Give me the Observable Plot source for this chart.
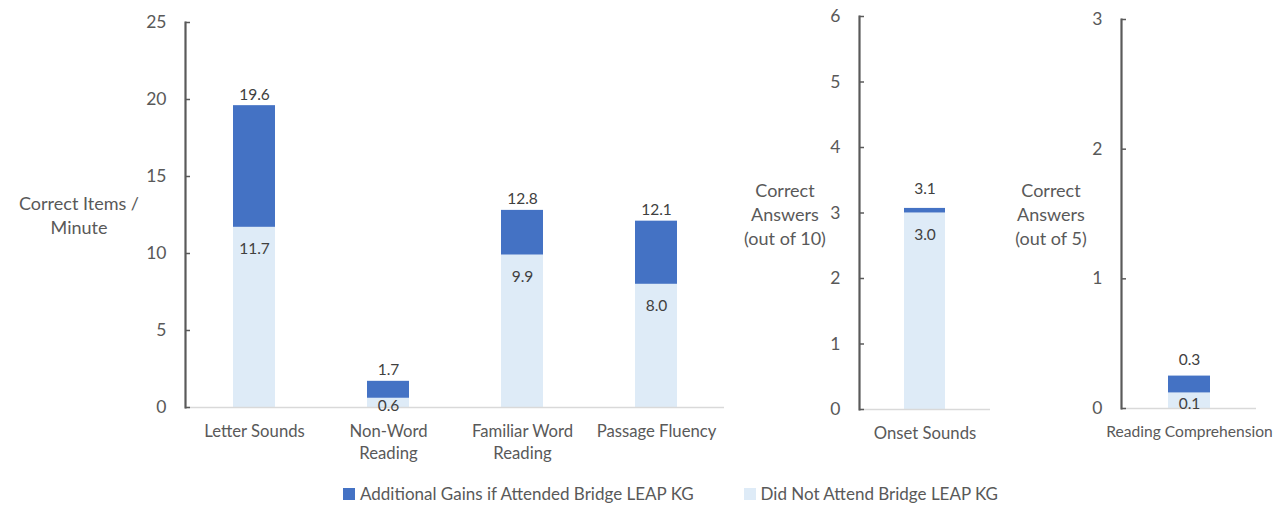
<!DOCTYPE html>
<html>
<head>
<meta charset="utf-8">
<script src="https://cdn.jsdelivr.net/npm/d3@7"></script>
<script src="https://cdn.jsdelivr.net/npm/@observablehq/plot@0.6"></script>
<style>
  body { margin: 0; background: #fff; font-family: Lato, "Open Sans", sans-serif; }
  #wrap { position: relative; width: 1275px; height: 505px; overflow: hidden; background: #fff; }
  .panel { position: absolute; top: 0; }
  .ytitle { position: absolute; text-align: center; color: #595959; font-size: 18px; line-height: 24px; transform: translate(-50%, -50%); white-space: nowrap; z-index: 2; }
  #legend { position: absolute; top: 483px; left: 343px; display: flex; align-items: center; color: #595959; font-size: 17px; white-space: nowrap; }
  .sw { display: inline-block; width: 12px; height: 12px; margin-right: 5px; }
</style>
</head>
<body>
<div id="wrap"></div>
<script>
// ---- data ----
const fluencyCats = ["Letter Sounds", "Non-Word Reading", "Familiar Word Reading", "Passage Fluency"];
const fluencyTickLabels = ["Letter Sounds", "Non-Word\nReading", "Familiar Word\nReading", "Passage Fluency"];
const fluencyBase = [11.7, 0.6, 9.9, 8.0];     // Did Not Attend Bridge LEAP KG
const fluencyTotal = [19.6, 1.7, 12.8, 12.1];  // with Additional Gains
const onsetCats = ["Onset Sounds"];
const onsetBase = [3.0];
const onsetTotal = [3.07];
const compCats = ["Reading Comprehension"];
const compBase = [0.12];
const compTotal = [0.25];
const fluencyTicks = [0, 5, 10, 15, 20, 25];
const onsetTicks = [0, 1, 2, 3, 4, 5, 6];
const compTicks = [0, 1, 2, 3];
const seriesNames = ["Additional Gains if Attended Bridge LEAP KG", "Did Not Attend Bridge LEAP KG"];
const yTitles = [["Correct Items /", "Minute"], ["Correct", "Answers", "(out of 10)"], ["Correct", "Answers", "(out of 5)"]];

const DARK = "#4472C4", LIGHT = "#DEEBF7", TXT = "#595959", AX = "#5a5a5a";
const FONT = "Lato, 'Open Sans', sans-serif";

function panel(o) {
  const rows = o.cats.map((c, i) => ({cat: c, base: o.base[i], total: o.total[i], label: o.tickLabels[i]}));
  const plotH = 470;
  const ppu = (plotH - o.marginTop - o.marginBottom) / o.yMax;
  const bigBase = rows.filter(d => d.base * ppu > 30);
  const smallBase = rows.filter(d => d.base * ppu <= 30);
  const labelOf = new Map(rows.map(d => [d.cat, d.label]));
  return Plot.plot({
    width: o.width,
    height: plotH,
    marginLeft: o.marginLeft,
    marginRight: o.marginRight,
    marginTop: o.marginTop,
    marginBottom: o.marginBottom,
    style: {fontFamily: FONT, color: TXT, background: "transparent", overflow: "visible"},
    x: {domain: o.cats, paddingInner: o.pad, paddingOuter: o.pad / 2, label: null, axis: null},
    y: {domain: [0, o.yMax], label: null, axis: null},
    marks: [
      Plot.barY(rows, {x: "cat", y1: 0, y2: "base", fill: LIGHT}),
      Plot.barY(rows, {x: "cat", y1: "base", y2: "total", fill: DARK}),
      Plot.ruleY([0], {stroke: "#D9D9D9", strokeWidth: 1.5}),
      Plot.axisY({ticks: o.ticks, tickSize: 0, tickPadding: 19, tickFormat: d => String(d), fontSize: 17.5, fill: TXT}),
      Plot.axisY({ticks: o.ticks, tickSize: 5, dx: 5, tickFormat: () => "", stroke: AX, strokeWidth: 1.5}),
      Plot.frame({anchor: "left", stroke: AX, strokeWidth: 2.2}),
      Plot.axisX({tickSize: 0, tickPadding: 14, tickFormat: c => labelOf.get(c), fontSize: o.xFont, lineHeight: 1.32, fill: TXT}),
      Plot.text(rows, {x: "cat", y: "total", text: d => d.total.toFixed(1), dy: o.totalDy, fontSize: 15.5, fill: "#404040"}),
      Plot.text(bigBase, {x: "cat", y: "base", text: d => d.base.toFixed(1), dy: 22, fontSize: 15.5, fill: "#404040"}),
      Plot.text(smallBase, {x: "cat", y: d => d.base / 2, text: d => d.base.toFixed(1), dy: 3, fontSize: 15.5, fill: "#404040"})
    ]
  });
}

const wrap = document.getElementById("wrap");
function place(svg, left) {
  const d = document.createElement("div");
  d.className = "panel";
  d.style.left = left + "px";
  d.appendChild(svg);
  wrap.appendChild(d);
}

place(panel({cats: fluencyCats, tickLabels: fluencyTickLabels, base: fluencyBase, total: fluencyTotal,
  yMax: 25, ticks: fluencyTicks, width: 740, marginLeft: 185, marginRight: 16, marginTop: 22, marginBottom: 63,
  pad: 0.69, totalDy: -11, xFont: 16.7}), 0);
place(panel({cats: onsetCats, tickLabels: onsetCats, base: onsetBase, total: onsetTotal,
  yMax: 6, ticks: onsetTicks, width: 270, marginLeft: 119, marginRight: 20, marginTop: 16, marginBottom: 61,
  pad: 0.69, totalDy: -19, xFont: 16.7}), 740);
place(panel({cats: compCats, tickLabels: compCats, base: compBase, total: compTotal,
  yMax: 3, ticks: compTicks, width: 265, marginLeft: 111, marginRight: 19, marginTop: 19, marginBottom: 62,
  pad: 0.69, totalDy: -16, xFont: 15.6}), 1010);

// y-axis titles
const titlePos = [[79, 215], [785, 214], [1051, 214]];
yTitles.forEach((lines, i) => {
  const t = document.createElement("div");
  t.className = "ytitle";
  t.style.left = titlePos[i][0] + "px";
  t.style.top = titlePos[i][1] + "px";
  t.innerHTML = lines.join("<br>");
  wrap.appendChild(t);
});

// legend
const lg = document.createElement("div");
lg.id = "legend";
const colors = [DARK, LIGHT];
lg.innerHTML = seriesNames.map((s, i) =>
  `<span class="sw" style="background:${colors[i]}"></span><span style="margin-right:${i === 0 ? 50 : 0}px">${s}</span>`).join("");
wrap.appendChild(lg);
</script>
</body>
</html>
